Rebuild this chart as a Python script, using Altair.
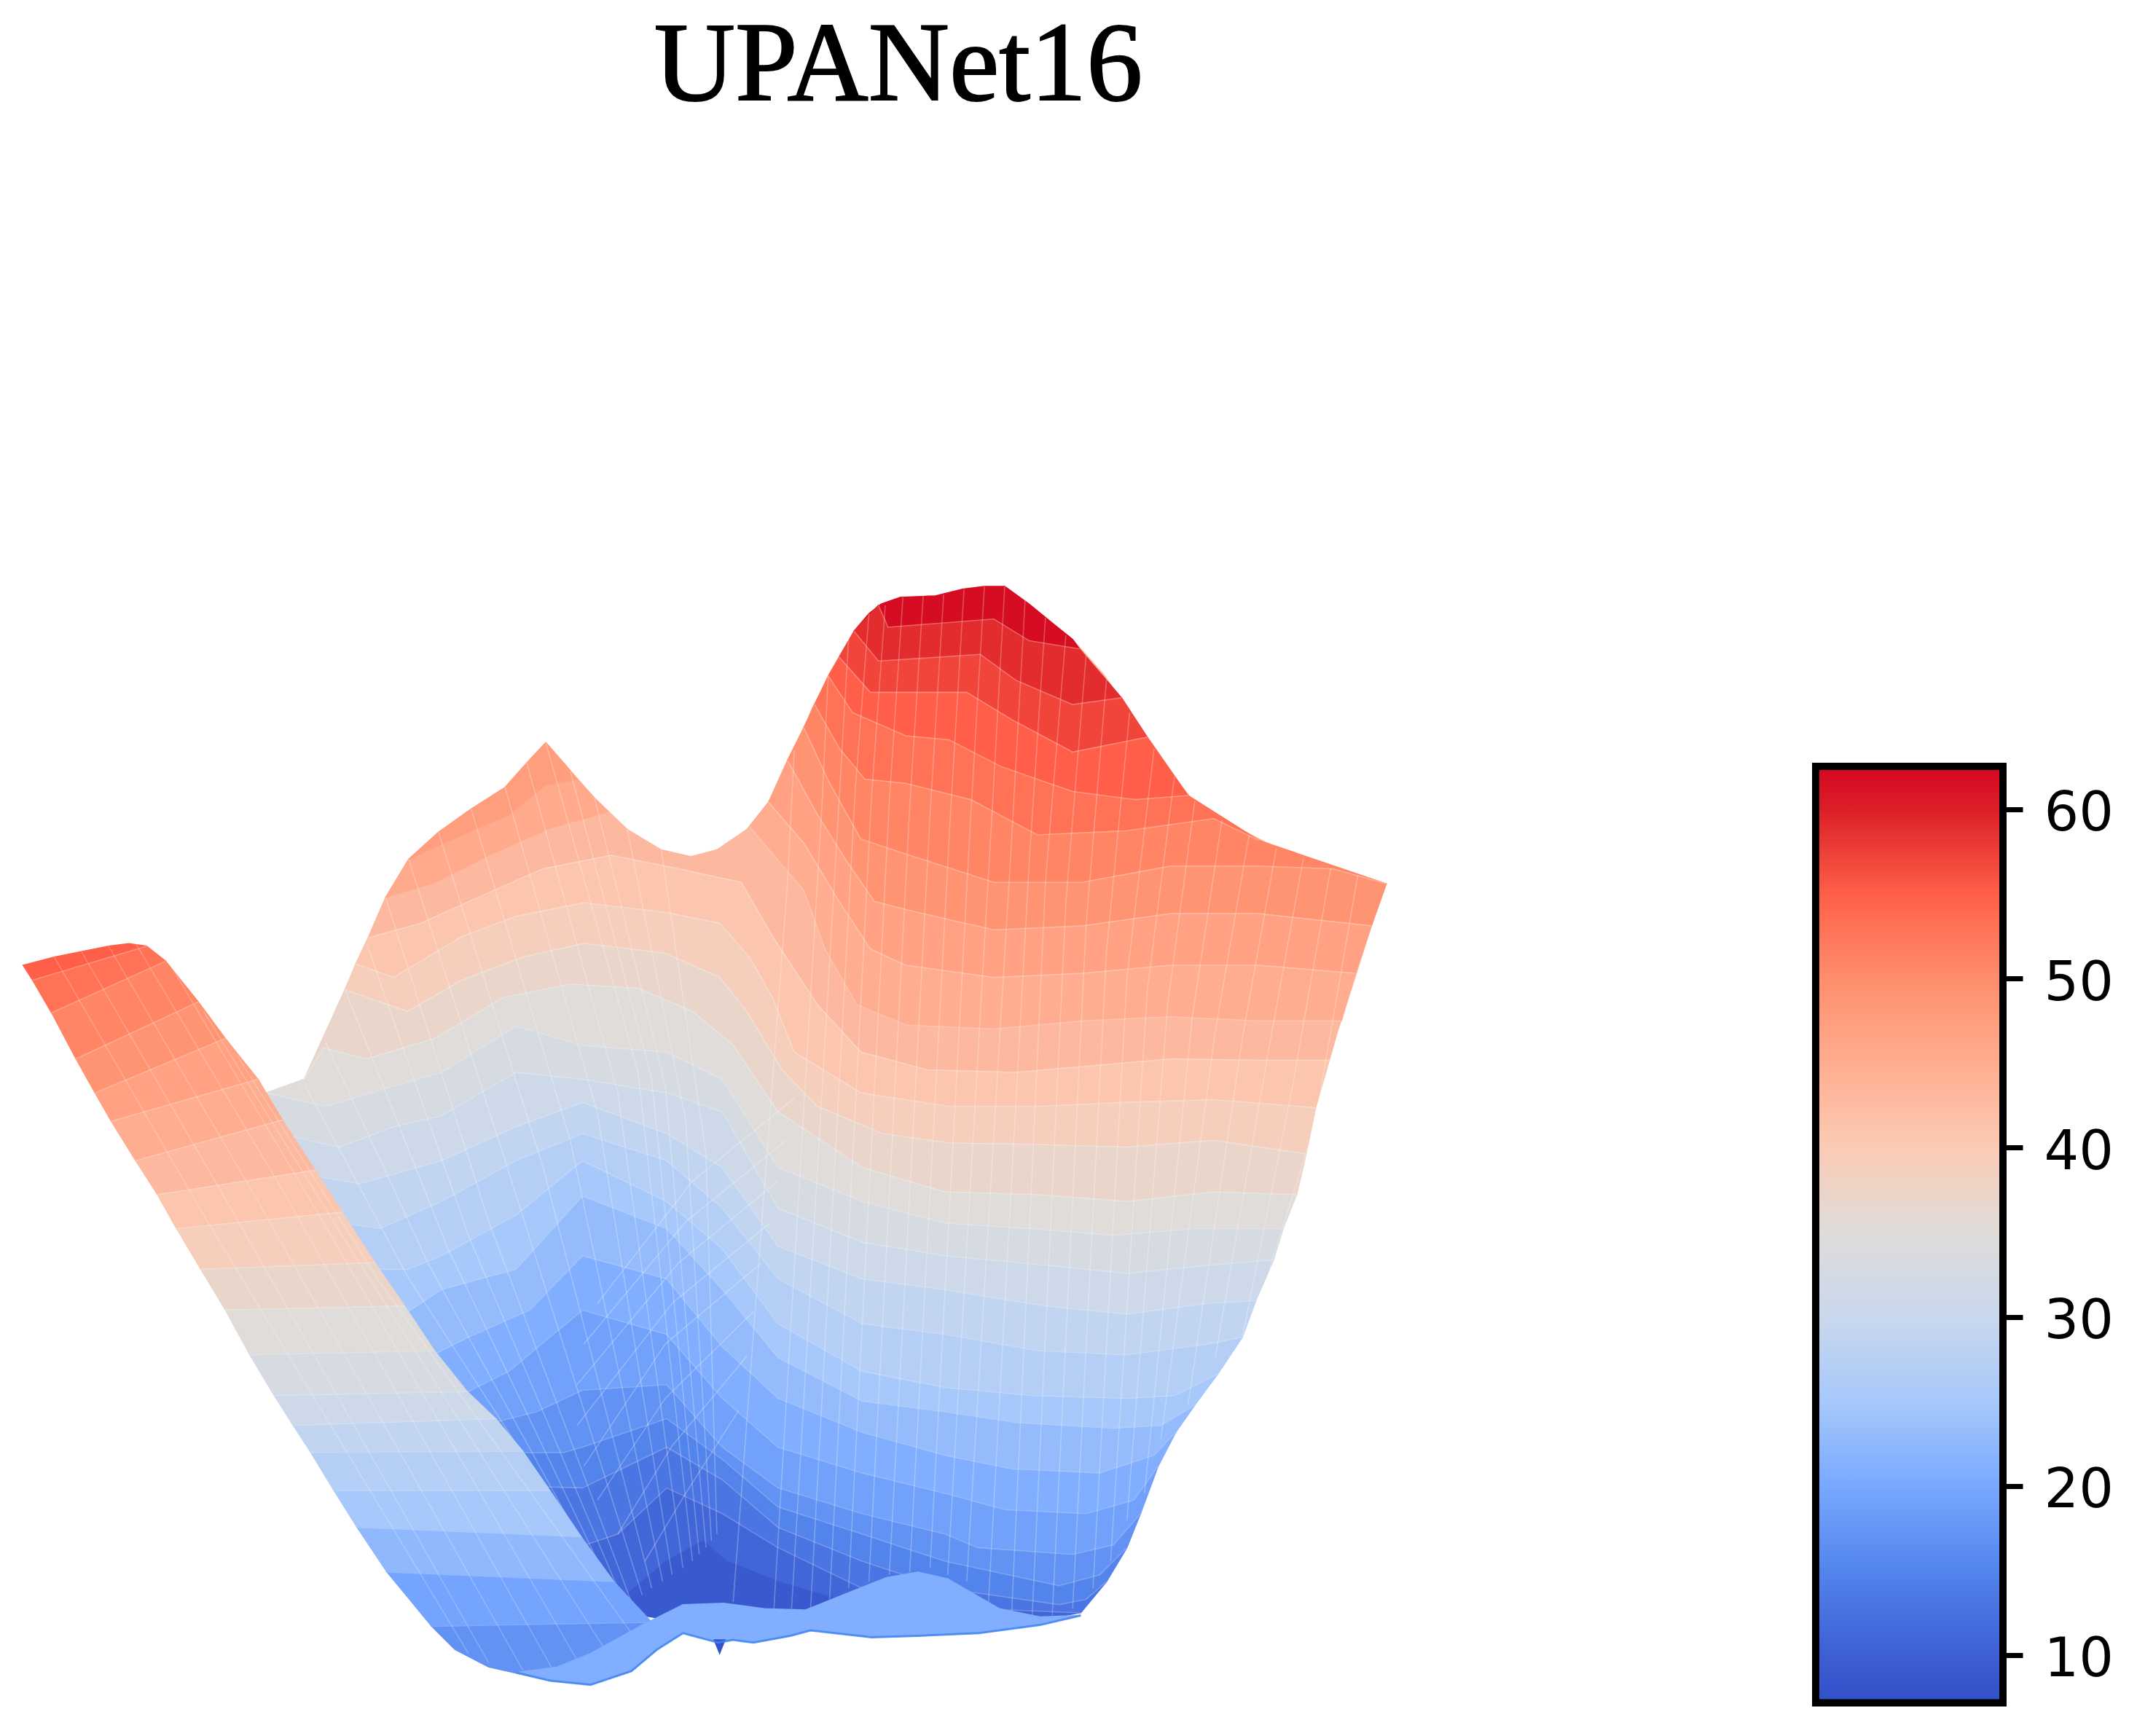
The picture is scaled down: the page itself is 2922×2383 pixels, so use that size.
import altair as alt

TITLE = "UPANet16"
BAR_VALUES = [7.18, 10, 15, 20, 25, 30, 35, 40, 45, 50, 55, 60, 62.54]
BAR_COLORS = ["#3150c8", "#3d5fd3", "#5384ec", "#78a8ff", "#a7c8fa", "#c9d8ed", "#dfdcd9",
              "#fbcbb5", "#ffad90", "#ff8e6c", "#ff5f48", "#dc1f28", "#d40722"]
BAR_TICKS = [10, 20, 30, 40, 50, 60]

# Picture-plane outline of the surface
TOP_OUTLINE = [(271,691),(284,661),(301,633),(323,613),(347,596),(372,580),(388,562),(402,547),(416,563),
               (438,588),(462,611),(487,626),(509,631),(528,626),(550,611),(566,591),(580,565),(590,543),
               (598,522),(615,490),(631,464),(649,445),(663,440),(689,439),(709,434),(725,432),(740,432),
               (758,445),(790,471),(813,497),(836,530),(855,560),(878,589),(904,606),(943,626),(982,640),
               (1021,651),(1011,679),(998,720),(985,760),(979,781)]
HILL_CAP = [(629,465),(640,452),(649,445),(663,440),(689,439),(709,434),(725,432),(740,432),(758,445),(775,459),(790,471),(795,478)]

HILL_LEVELS = [60, 58, 56, 54, 52, 50, 48, 46, 44]
HILL_ROWS = [
    [(647,446),(654,462),(732,456),(758,472),(795,478)],
    [(629,465),(647,487),(722,482),(748,501),(790,519),(826,514)],
    [(618,484),(641,510),(712,510),(745,530),(790,554),(845,543)],
    [(610,498),(628,525),(667,542),(699,545),(738,565),(790,583),(836,589),(875,586)],
    [(600,519),(618,551),(637,574),(667,577),(715,589),(764,615),(829,612),(894,603),(927,619)],
    [(592,536),(611,577),(634,618),(667,629),(732,650),(797,650),(862,638),(927,638),(982,640),(1021,651)],
    [(580,560),(602,600),(624,635),(644,664),(667,670),(732,685),(797,682),(862,673),(927,673),(1010,682)],
    [(566,591),(592,621),(618,664),(641,699),(667,711),(732,720),(797,717),(862,711),(927,711),(998,717)],
    [(552,609),(592,656),(608,700),(631,740),(667,755),(732,758),(797,752),(862,749),(927,752),(988,752)],
]

PEAK_CAP = [(301,633),(323,613),(347,596),(372,580),(388,562),(402,547),(416,563),(425,574),(402,578),(375,600),(340,615)]
PEAK_BAND = [(284,661),(301,633),(340,615),(375,600),(402,578),(425,574),(438,588),(448,598),(405,610),(360,630),(320,650)]

MAIN_LEVELS = [42, 40, 38, 36, 34, 32, 30, 28, 26, 24, 22, 20, 18, 16, 14, 12, 10]
MAIN_ROWS = [
    [(271,691),(310,680),(350,662),(400,640),(450,630),(500,640),(546,650),(569,690),(602,740),(634,775),(683,788),(748,790),(862,780),(927,781),(979,781)],
    [(262,710),(290,720),(340,690),(380,675),(430,665),(490,672),(530,680),(552,705),(569,735),(585,775),(634,805),(699,815),(764,815),(829,812),(894,810),(969,816)],
    [(254,729),(300,745),(340,722),(385,705),(430,695),(490,702),(530,720),(550,745),(576,788),(602,815),(650,835),(699,842),(764,843),(829,845),(894,840),(962,850)],
    [(224,795),(238,772),(270,780),(320,765),(370,735),(420,725),(470,728),(510,745),(540,770),(573,819),(635,860),(696,878),(764,880),(830,885),(894,878),(955,880)],
    [(196,805),(240,815),(290,800),(325,790),(380,756),(429,770),(491,775),(532,795),(573,860),(635,885),(696,901),(760,905),(820,910),(880,905),(945,905)],
    [(205,835),(250,845),(290,830),(325,822),(380,790),(429,795),(491,805),(532,819),(573,890),(635,915),(696,925),(770,932),(830,938),(890,932),(938,928)],
    [(225,865),(265,872),(325,855),(380,830),(429,812),(491,835),(532,860),(573,918),(635,942),(696,950),(770,962),(830,968),(890,960),(925,958)],
    [(245,900),(280,905),(325,885),(380,855),(429,835),(491,855),(532,890),(573,942),(635,975),(696,983),(765,995),(830,998),(890,990),(915,985)],
    [(270,935),(300,935),(325,925),(380,895),(429,855),(491,885),(532,920),(573,975),(635,1010),(696,1022),(760,1028),(830,1030),(865,1028),(897,1012)],
    [(295,970),(325,950),(380,935),(429,881),(491,905),(532,950),(573,1000),(635,1032),(696,1040),(750,1048),(820,1052),(855,1050),(880,1035)],
    [(315,1000),(345,985),(390,965),(429,925),(491,942),(532,992),(573,1030),(635,1055),(696,1072),(745,1082),(810,1085),(850,1072),(866,1055)],
    [(335,1030),(375,1010),(429,965),(491,983),(532,1030),(573,1066),(635,1085),(696,1100),(740,1112),(800,1115),(835,1105),(853,1080)],
    [(355,1050),(395,1040),(429,1024),(491,1020),(532,1066),(573,1096),(635,1115),(696,1130),(720,1140),(790,1145),(820,1138),(840,1115)],
    [(375,1070),(415,1070),(429,1066),(491,1045),(532,1075),(573,1110),(635,1130),(696,1150),(780,1168),(810,1160),(830,1140)],
    [(392,1095),(429,1096),(491,1066),(532,1090),(573,1125),(635,1150),(696,1170),(780,1182),(800,1178),(815,1165)],
    [(425,1140),(455,1130),(491,1096),(532,1115),(573,1140),(635,1170),(720,1185),(796,1188)],
    [(455,1180),(491,1150),(518,1135),(535,1150),(573,1165),(640,1185),(720,1192),(766,1193)],
]
MAIN_BOTTOM = [(640,1195),(529,1200),(503,1195),(473,1190)]

WING_CAP = [(17,711),(40,705),(60,701),(80,697),(95,695),(108,697),(24,722)]
WING_LEVELS = [54, 52, 50, 48, 46, 44, 42, 40, 38, 36, 34, 32, 30, 28, 26, 24, 21, 18]
WING_ROWS = [
    [(24,722),(108,697)], [(38,746),(122,708)], [(56,780),(146,738)], [(70,805),(166,765)],
    [(82,826),(190,795)], [(100,855),(208,825)], [(116,880),(232,862)], [(130,905),(252,893)],
    [(148,935),(276,930)], [(166,965),(298,962)], [(184,998),(320,995)], [(202,1028),(344,1025)],
    [(216,1050),(365,1045)], [(229,1070),(385,1069)], [(246,1098),(405,1098)], [(263,1125),(428,1132)],
    [(285,1158),(452,1165)], [(318,1198),(480,1195)],
]
WING_BOTTOM = [(484,1215),(465,1231),(435,1241),(405,1238),(360,1228),(335,1215)]

LIP = [(796,1190),(766,1197),(721,1203),(676,1205),(642,1206),(597,1201),(582,1205),(555,1210),(540,1208),
       (529,1210),(503,1203),(484,1215),(465,1231),(435,1241),(405,1238),(380,1232),(410,1228),(435,1218),
       (473,1197),(503,1182),(533,1181),(563,1185),(593,1186),(623,1174),(653,1162),(676,1158),(698,1163),
       (717,1174),(736,1185),(766,1191)]
LIP_EDGE = [(796,1190),(766,1197),(721,1203),(676,1205),(642,1206),(597,1201),(582,1205),(555,1210),(540,1208),
            (529,1210),(503,1203),(484,1215),(465,1231),(435,1241),(405,1238),(380,1232)]
NOTCH = [(526,1208),(530,1218),(534,1208)]

CROSS_LINES = [
    [(1000,645),(968,830),(935,935)], [(960,632),(935,770),(895,1000)], [(920,615),(895,760),(855,1060)],
    [(880,590),(860,740),(830,1120)], [(850,552),(830,720),(805,1170)], [(815,500),(800,680),(775,1190)],
    [(785,468),(770,650),(745,1190)], [(755,442),(745,620),(712,1165)], [(725,432),(715,600),(685,1155)],
    [(695,438),(685,600),(655,1160)], [(665,440),(655,590),(625,1170)], [(640,452),(630,580),(597,1185)],
    [(610,497),(605,600),(570,1185)], [(585,553),(580,650),(540,1180)],
    [(980,640),(952,800),(915,985)], [(940,625),(915,765),(875,1035)], [(900,604),(878,750),(843,1100)],
    [(865,572),(845,730),(818,1150)], [(832,525),(815,700),(790,1185)], [(800,482),(785,665),(760,1195)],
    [(770,455),(758,635),(728,1180)], [(740,432),(730,610),(698,1160)], [(710,434),(700,600),(670,1158)],
    [(680,438),(670,595),(640,1165)], [(652,446),(642,585),(611,1178)], [(625,470),(618,590),(583,1185)],
    [(284,661),(360,900),(465,1180)], [(323,613),(400,860),(480,1170)], [(372,580),(440,820),(495,1160)],
    [(402,547),(470,790),(510,1150)], [(438,588),(490,800),(520,1140)], [(487,626),(520,850),(528,1130)],
    [(254,729),(330,920),(445,1160)], [(225,800),(300,940),(420,1125)],
    [(301,633),(380,880),(473,1175)], [(347,596),(420,840),(488,1165)], [(388,562),(455,805),(503,1155)],
    [(420,568),(480,795),(515,1145)], [(462,611),(505,825),(524,1135)], [(270,695),(345,910),(455,1170)],
    [(240,768),(315,930),(433,1145)],
    [(440,960),(510,870),(585,809)], [(430,990),(505,900),(579,840)], [(425,1020),(500,930),(573,870)],
    [(425,1050),(495,960),(567,901)], [(430,1080),(490,990),(561,930)], [(440,1105),(490,1030),(555,966)],
    [(455,1130),(495,1065),(550,999)], [(475,1150),(505,1100),(544,1039)],
]
WING_CROSS = [
    [(40,705),(150,895),(345,1218)], [(60,701),(170,890),(360,1225)], [(80,697),(190,885),(385,1230)],
    [(100,695),(210,880),(410,1235)], [(125,710),(235,895),(435,1240)], [(150,745),(255,915),(455,1230)],
    [(175,778),(280,945),(470,1210)],
]


def poly(points, v):
    ring = [list(p) for p in points] + [list(points[0])]
    return {"type": "Feature", "properties": {"v": v}, "geometry": {"type": "Polygon", "coordinates": [ring]}}


def line(points):
    return {"type": "Feature", "properties": {}, "geometry": {"type": "LineString", "coordinates": [list(p) for p in points]}}


def bands(rows, levels):
    return [poly(rows[i] + rows[i + 1][::-1], (levels[i] + levels[i + 1]) / 2) for i in range(len(rows) - 1)]


back = [poly(TOP_OUTLINE + MAIN_ROWS[0][::-1], 43),
        poly(HILL_ROWS[0][::-1] + HILL_CAP, 62)]
back += bands(HILL_ROWS, HILL_LEVELS)
back += [poly(PEAK_BAND, 45.5), poly(PEAK_CAP, 47.5)]
back += bands(MAIN_ROWS, MAIN_LEVELS)
back.append(poly(MAIN_ROWS[-1] + MAIN_BOTTOM, 9))

front = [poly(WING_CAP, 55)]
front += bands(WING_ROWS, WING_LEVELS)
front.append(poly(WING_ROWS[-1] + WING_BOTTOM, 17))

lip = [poly(LIP, 21), poly(NOTCH, 8)]

back_lines = [line(r) for r in HILL_ROWS + MAIN_ROWS[:-1]] + [line(r) for r in CROSS_LINES]
front_lines = [line(r) for r in WING_ROWS] + [line(r) for r in WING_CROSS]

SCALE = alt.Scale(domain=BAR_VALUES, range=BAR_COLORS, clamp=True, interpolate="rgb")
PROJ = dict(type="identity", scale=1.8635, translate=[-8, -8])


def fills(features):
    return alt.Chart(alt.Data(values=features)).mark_geoshape(strokeWidth=1.5).encode(
        fill=alt.Fill("properties.v:Q", scale=SCALE, legend=None),
        stroke=alt.Stroke("properties.v:Q", scale=SCALE, legend=None),
    ).project(**PROJ)


def strokes(features, opacity, color="white", width=1.6):
    return alt.Chart(alt.Data(values=features)).mark_geoshape(
        filled=False, stroke=color, strokeWidth=width, strokeOpacity=opacity
    ).project(**PROJ)


span = BAR_VALUES[-1] - BAR_VALUES[0]
gradient = {
    "gradient": "linear", "x1": 0, "x2": 0, "y1": 1, "y2": 0,
    "stops": [{"offset": (v - BAR_VALUES[0]) / span, "color": c} for v, c in zip(BAR_VALUES, BAR_COLORS)],
}
bar = alt.Chart(alt.Data(values=[{"lo": BAR_VALUES[0], "hi": BAR_VALUES[-1]}])).mark_rect(
    fill=gradient, stroke="black", strokeWidth=10
).encode(
    x=alt.value(2484), x2=alt.value(2741),
    y=alt.Y("lo:Q", scale=alt.Scale(domain=[5.564, 107.5], nice=False, zero=False),
            axis=alt.Axis(orient="right", values=BAR_TICKS, domain=False, grid=False, title=None,
                          tickSize=27, tickWidth=7, tickColor="black", labelFontSize=75,
                          labelFont="DejaVu Sans", labelColor="black", labelPadding=29, labelOffset=6,
                          labelOverlap=False, labelFlush=False, format="d")),
    y2="hi:Q",
)

title = alt.Chart(alt.Data(values=[{"t": TITLE}])).mark_text(
    font="Liberation Serif", fontSize=154, color="black", align="center", baseline="alphabetic",
    stroke="black", strokeWidth=2
).encode(text="t:N", x=alt.value(1225), y=alt.value(129))

chart = alt.layer(
    fills(back), strokes(back_lines, 0.26), fills(front), strokes(front_lines, 0.22),
    fills(lip), strokes([line(LIP_EDGE)], 0.8, "#3f83f0", 3), bar, title
).properties(
    width=2741, height=2367,
    autosize=alt.AutoSizeParams(type="none"),
    padding={"left": 0, "top": 0, "right": 165, "bottom": 0},
).configure_view(stroke=None)

chart.save("out.html", embed_options={"renderer": "svg", "actions": False})
